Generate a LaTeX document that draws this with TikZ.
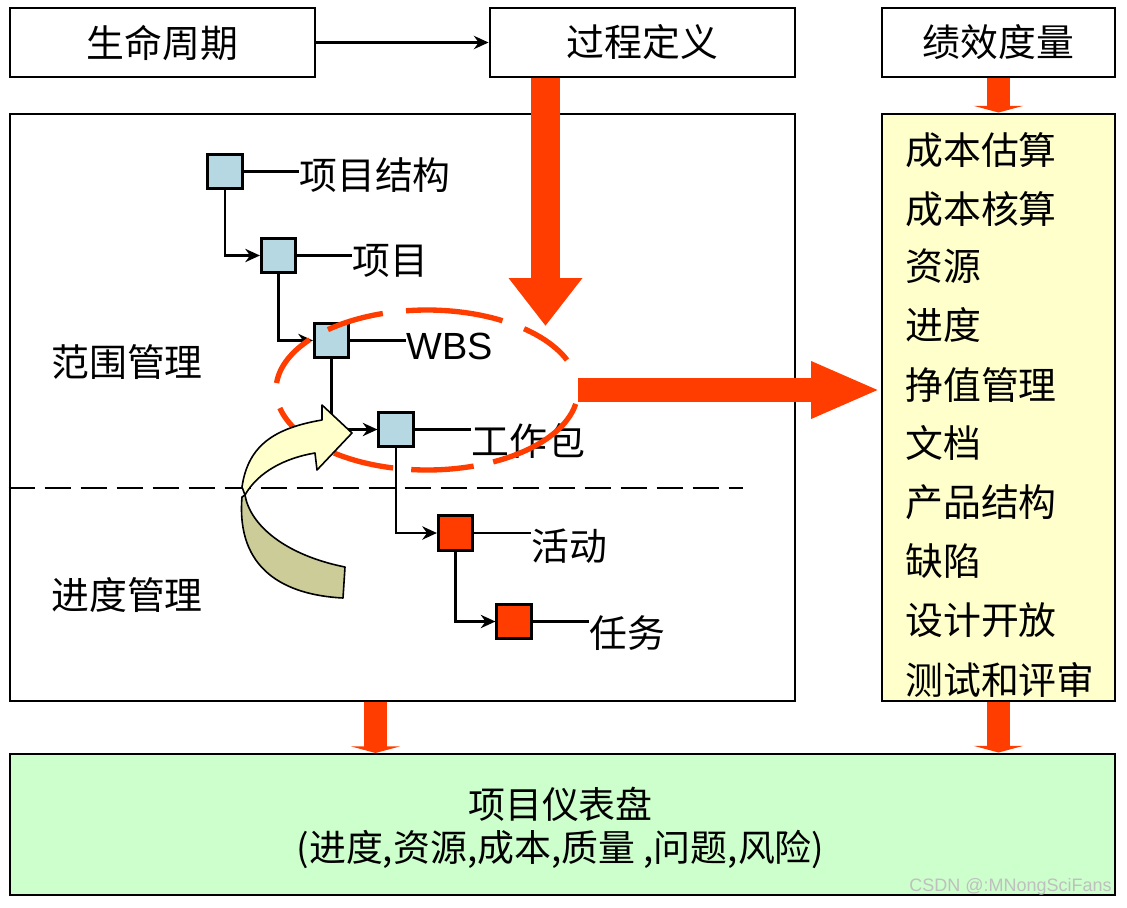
\documentclass[tikz,border=0pt]{standalone}
\usepackage{fontspec}
\setmainfont{Noto Sans CJK SC}
\newfontfamily\latinfont{Liberation Sans}
\usetikzlibrary{arrows.meta}
\definecolor{flowred}{HTML}{FF3D00}
\definecolor{wbsblue}{HTML}{B5D8E3}
\definecolor{listyellow}{HTML}{FFFFCC}
\definecolor{dashgreen}{HTML}{CCFFCC}
\definecolor{turnkhaki}{HTML}{CCCC99}
\tikzset{
	every node/.style={font=\fontsize{28.4}{32}\selectfont, inner sep=0pt},
	bigbox/.style={draw=black, line width=2.2pt, align=center},
	smallbox/.style={draw=black, line width=2pt, minimum size=34.5*.75pt},
	wbsbox/.style={smallbox, fill=wbsblue},
	workbox/.style={smallbox, fill=flowred},
	treelink/.style={line width=1.6pt, -{Stealth[length=11pt,width=10pt]}},
	treeline/.style={line width=1.6pt},
	flowbig/.style={draw=flowred, line width=21.75pt, -{Triangle[length=36pt,width=53pt]}},
	flowout/.style={draw=flowred, line width=18pt, -{Triangle[length=52pt,width=39pt]}},
	flowsmall/.style={draw=flowred, line width=17pt, -{Triangle[length=5pt,width=37pt]}},
	ringdash/.style={draw=flowred, line width=4pt},
	turnpart/.style={draw=black, line width=1.2pt, line join=round}
}
\begin{document}
\begin{tikzpicture}[x=.75pt, y=-.75pt]
	\useasboundingbox (0,0) rectangle (1127,907);
	% top row and the three large panels
	\node [bigbox, minimum width=305*.75pt, minimum height=69*.75pt] (life) at (162.5,42.5) {\raisebox{-1.5pt}{生命周期}};
	\node [bigbox, minimum width=305*.75pt, minimum height=69*.75pt] (pdef) at (642.5,42.5) {\raisebox{-1.5pt}{过程定义}};
	\node [bigbox, minimum width=233*.75pt, minimum height=69*.75pt] (perf) at (998.5,42.5) {\raisebox{-1.5pt}{绩效度量}};
	\node [bigbox, minimum width=785*.75pt, minimum height=587*.75pt] (scope) at (402.5,407.5) {};
	\node [bigbox, fill=listyellow, minimum width=233*.75pt, minimum height=587*.75pt] (list) at (998.5,407.5) {};
	\node [bigbox, fill=dashgreen, minimum width=1105*.75pt, minimum height=141*.75pt] (board) at (562.5,824.5) {};
	\node [align=center, font=\fontsize{27.7}{32}\selectfont] (boardtext) at (560.5,828) {项目仪表盘\\(进度,资源,成本,质量 ,问题,风险)};
	\draw [treelink] (life) -- (pdef);

	\foreach \name/\txt/\ypos in {a/成本估算/150, b/成本核算/209, c/资源/266, d/进度/325, e/挣值管理/385, f/文档/443, g/产品结构/502, h/缺陷/561, i/设计开放/620, j/测试和评审/680}
		\node [anchor=west] (list\name) at (905,\ypos) {\txt};

	\node [anchor=west] (rangelabel) at (51,362) {范围管理};
	\node [anchor=west] (planlabel) at (51,595) {进度管理};
	\draw [dash pattern=on 20pt off 7pt, line width=1.5pt] (scope.west |- 0,488) -- (743,488);

	% breakdown tree
	\node [wbsbox] (struct) at (225,171.5) {};
	\node [wbsbox] (proj) at (278.5,255.5) {};
	\node [wbsbox] (wbs) at (331.5,340.5) {};
	\node [wbsbox] (pack) at (396,429.5) {};
	\node [workbox] (act) at (455.5,533) {};
	\node [workbox] (task) at (514,621.5) {};
	\node [anchor=west] (structlabel) at (299,175) {项目结构};
	\node [anchor=west] (projlabel) at (352,261) {项目};
	\node [anchor=west] (wbslabel) at (406,346) {\latinfont WBS};
	\node [anchor=west] (packlabel) at (471,441) {工作包};
	\node [anchor=west] (actlabel) at (531,546) {活动};
	\node [anchor=west] (tasklabel) at (589,633) {任务};
	\draw [treelink] (struct.south) |- (proj.west);
	\draw [treelink] (proj.south) |- (wbs.west);
	\draw [treelink] (wbs.south) |- (pack.west);
	\draw [treelink] (pack.south) |- (act.west);
	\draw [treelink] (act.south) |- (task.west);
	\draw [treeline] (struct.east) -- (structlabel.west |- struct.east);
	\draw [treeline] (proj.east) -- (projlabel.west |- proj.east);
	\draw [treeline] (wbs.east) -- (wbslabel.west |- wbs.east);
	\draw [treeline] (pack.east) -- (packlabel.west |- pack.east);
	\draw [treeline] (act.east) -- (actlabel.west |- act.east);
	\draw [treeline] (task.east) -- (tasklabel.west |- task.east);

	% broken ring round WBS
	\foreach \a/\b in {22/50, 60/98, 107/131, 141/175, 193/226, 232/257, 264/288, 296/350}
		\draw [ringdash] plot [domain=\a:\b, samples=16, smooth] ({427+151*cos(\x)},{390-80*sin(\x)});

	% curved turn arrow
	\draw [turnpart, fill=turnkhaki] (245,495) .. controls (250,525) and (285,555) .. (345,567) -- (343,598) .. controls (285,595) and (236,570) .. (242,497) -- cycle;
	\draw [turnpart, fill=listyellow] (242,487) .. controls (248,445) and (275,428) .. (322,420) -- (322,405) -- (352,433) -- (317,470) -- (315,453) .. controls (285,458) and (258,472) .. (245,495) -- cycle;

	% flows
	\coordinate (pdefdrop) at (545.5,326);
	\coordinate (ringexit) at (578,390);
	\coordinate (scopedrop) at (375.5,753);
	\draw [flowbig] (pdefdrop |- pdef.south) -- (pdefdrop);
	\draw [flowout] (ringexit) -- (ringexit -| list.west);
	\draw [flowsmall] (perf.south) -- (list.north);
	\draw [flowsmall] (scopedrop |- scope.south) -- (scopedrop);
	\draw [flowsmall] (list.south) -- (list.south |- board.north);

	\node [anchor=east, text=white!75!black, font=\latinfont\fontsize{13.5}{15}\selectfont] (mark) at (1112,887) {CSDN @:MNongSciFans};
\end{tikzpicture}
\end{document}
